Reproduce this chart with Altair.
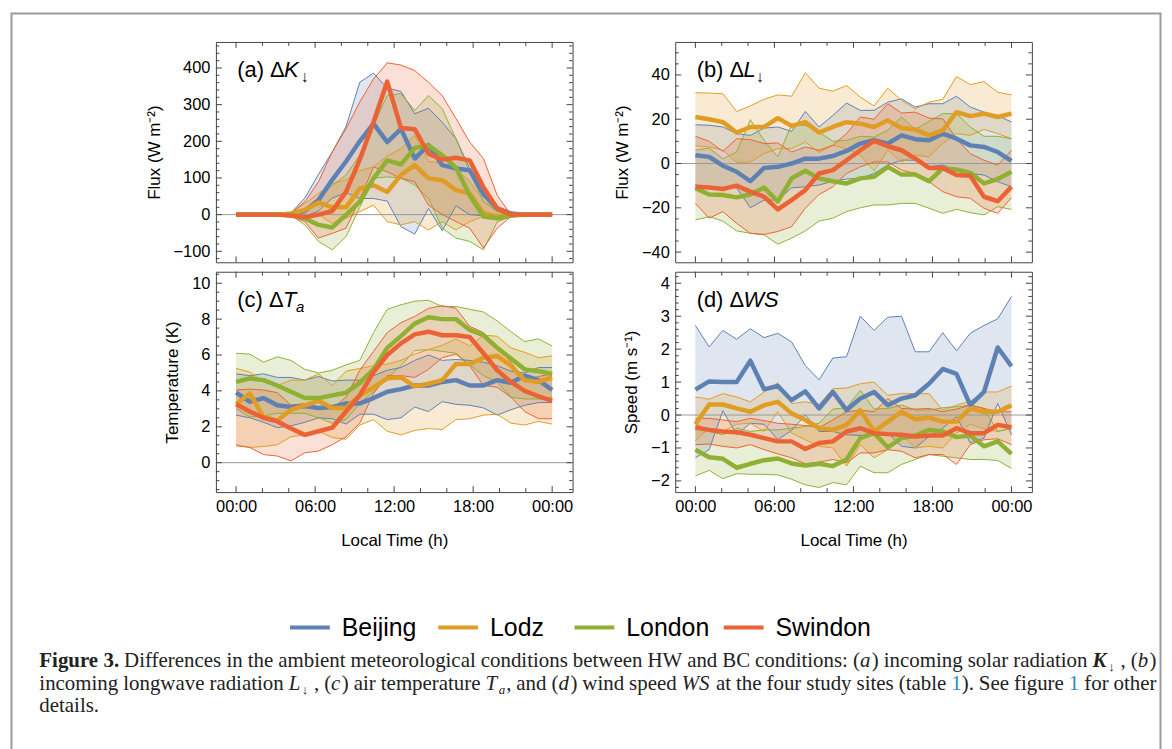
import altair as alt
import pandas as pd

SITES = ["Beijing", "Lodz", "London", "Swindon"]
COLORS = ["#5E81B5", "#E19C24", "#8FB032", "#EB6235"]
# 24 samples spread evenly over the day, 00:00 .. 24:00
HOURS = [i * 24 / 23 for i in range(24)]

# ---------------- (a) incoming solar radiation (W m-2) ----------------
K_BEI_M = [0, 0, 0, 0, 2, 10, 40, 95, 145, 200, 248, 198, 234, 153, 190, 135, 126, 121, 55, 17, 3, 0, 0, 0]
K_BEI_HI = [0, 0, 0, 0, 5, 45, 110, 171, 240, 361, 386, 345, 336, 275, 290, 252, 207, 126, 67, 17, 2, 0, 0, 0]
K_BEI_LO = [0, 0, 0, 0, 0, -5, 10, 45, 60, 44, 44, 37, -33, -53, 17, -44, 24, 0, -3, -5, 0, 0, 0, 0]
K_LOD_M = [0, 0, 0, 0, 3, 13, 33, 20, 20, 71, 80, 62, 108, 135, 99, 94, 67, 58, 4, -5, -1, 0, 0, 0]
K_LOD_HI = [0, 0, 0, 0, 5, 30, 58, 85, 95, 120, 130, 160, 180, 216, 145, 140, 126, 90, 40, 8, 0, 0, 0, 0]
K_LOD_LO = [0, 0, 0, 0, 0, -5, 0, -24, -10, 8, 26, -19, -28, -19, -42, -19, -42, -19, -5, 0, 0, 0, 0, 0]
K_LON_M = [0, 0, 0, 0, 0, -10, -28, -35, -1, 35, 99, 148, 137, 182, 189, 162, 128, 53, -5, -10, -3, 0, 0, 0]
K_LON_HI = [0, 0, 0, 0, 2, 17, 44, 80, 108, 162, 243, 325, 330, 284, 325, 289, 207, 117, 35, 8, 0, 0, 0, 0]
K_LON_LO = [0, 0, 0, 0, -2, -28, -73, -96, -60, 20, 99, 103, 100, 81, 44, -37, -64, -73, -96, -20, -5, 0, 0, 0]
K_SWI_M = [0, 0, 0, 0, -3, -7, 0, 10, 62, 150, 252, 363, 236, 233, 166, 150, 155, 148, 75, 17, 0, 0, 0, 0]
K_SWI_HI = [0, 0, 0, 0, 5, 35, 90, 171, 234, 307, 370, 414, 408, 393, 361, 325, 262, 198, 153, 53, 0, 0, 0, 0]
K_SWI_LO = [0, 0, 0, 0, -5, -19, -64, -51, -37, 40, 130, 117, 99, 90, 26, 0, -19, -37, -91, -37, -5, 0, 0, 0]

# ---------------- (b) incoming longwave radiation (W m-2) ----------------
L_BEI_M = [3.7, 3, -1, -3.7, -8, -2, -1.5, 0, 2.2, 2.2, 3.4, 5.7, 9, 10.5, 9, 12.7, 11, 10.5, 13.5, 11.2, 8.2, 7.5, 5.2, 1.2]
L_BEI_HI = [17.5, 17.3, 16.5, 13.5, 12.7, 16, 16.5, 14.5, 23.5, 16.5, 21.7, 27.3, 24, 24, 27.7, 29.2, 25.5, 27, 27, 30.4, 25.5, 23.2, 21.7, 18.7]
L_BEI_LO = [-9.7, -10.5, -11, -11, -20, -16.5, -16.5, -11, -10.5, -9.7, -8, -7, -6.7, -4.5, -0.7, 1.5, 1.5, -1.5, -0.7, -3, -4.5, -5.2, -8.2, -10.5]
L_LOD_M = [21, 20, 18.7, 14, 16.5, 16.5, 20.5, 17, 18.7, 14, 16.5, 18.7, 18, 16.5, 19.5, 16, 15.4, 12.7, 15, 23.2, 21.4, 22.5, 21, 22.5]
L_LOD_HI = [32, 31.8, 31.5, 23.5, 26, 29, 31, 30.4, 41, 34, 32.7, 35.2, 30, 26, 34, 28.5, 24.7, 27.7, 29, 39.3, 35.6, 37, 32.2, 31]
L_LOD_LO = [8, 7.5, 6, 0.5, 0.7, 4.5, 6.7, 6.7, 9.7, 5, 8.2, 6.7, 3.7, -3.3, 6, 0.7, 3.7, 3, 9, 13.5, 12.7, 15.4, 13.5, 11.2]
L_LON_M = [-11.2, -14, -14.2, -15.3, -14, -10.8, -17.2, -6.7, -3.3, -6.7, -8, -9, -6.7, -6, -1.5, -5, -5, -8, -2.2, -2.7, -4.2, -9, -7, -3.7]
L_LON_HI = [6, 7, 2.2, 5.2, 19.8, 10.5, 3, 17.5, 17.2, 14.2, 10, 10.5, 12.3, 12, 15, 21, 15.4, 19, 22.5, 22.5, 16.5, 12.3, 12.3, 11.2]
L_LON_LO = [-25.5, -24, -26, -30.4, -31.5, -32.2, -36.4, -33.7, -30.4, -26, -24.7, -21.7, -20, -18.7, -18.7, -18, -18, -20.2, -22.5, -20.7, -22.2, -23.2, -19.5, -20.7]
L_SWI_M = [-10.5, -10.8, -11.5, -10, -12.7, -15, -20.7, -16.5, -12, -4.5, -3, 1.5, 6, 10.2, 7.8, 6, 2.2, -2, -2, -5.2, -5.5, -15, -17, -10.5]
L_SWI_HI = [12.3, 10, 5.5, 11.2, 10.8, 9, 9.3, 5.2, 7.5, 6, 8.2, 13.5, 21, 20, 27, 22.8, 23.2, 20.5, 20.2, 11.2, 4.5, 1.5, -0.7, 6]
L_SWI_LO = [-18, -24.7, -21.7, -27, -31.5, -32, -30.7, -28.5, -20.2, -14, -10.5, -4.5, -1.5, 0.7, 0.7, -3, -4.5, -8.2, -12.7, -15, -15.7, -20.2, -22.5, -15.4]

# ---------------- (c) air temperature (K) ----------------
T_BEI_M = [3.9, 3.4, 3.6, 3.2, 3.1, 3.15, 3.05, 3.1, 3.3, 3.3, 3.6, 3.95, 4.1, 4.3, 4.3, 4.5, 4.6, 4.3, 4.3, 4.6, 4.45, 4.85, 4.6, 4.05]
T_BEI_HI = [4.95, 4.85, 4.95, 4.75, 4.75, 4.6, 4.8, 4.55, 4.6, 4.6, 4.85, 5.15, 5.3, 5.7, 6.0, 5.7, 5.75, 5.7, 5.6, 5.4, 5.1, 5.0, 5.3, 5.3]
T_BEI_LO = [2.65, 2.5, 2.25, 1.95, 2.05, 2.25, 2.5, 2.45, 2.15, 2.7, 2.7, 2.4, 2.5, 3.1, 2.85, 3.4, 3.25, 3.2, 3.05, 2.65, 2.95, 3.2, 3.35, 3.35]
T_LOD_M = [3.25, 3.85, 2.55, 2.35, 2.95, 3.2, 3.45, 3.05, 3.05, 3.75, 4.2, 4.7, 4.75, 4.25, 4.4, 4.6, 5.5, 5.5, 5.85, 5.95, 5.4, 4.6, 4.5, 4.75]
T_LOD_HI = [5.25, 5.05, 4.5, 4.3, 4.6, 4.6, 4.95, 4.3, 5.1, 5.25, 5.4, 5.5, 5.7, 6.05, 6.3, 6.55, 6.9, 6.5, 7.1, 7.05, 6.4, 6.15, 5.85, 5.95]
T_LOD_LO = [1.0, 0.85, 0.9, 1.0, 1.45, 1.55, 1.75, 1.4, 1.3, 2.1, 2.4, 1.75, 1.55, 1.8, 1.9, 1.85, 2.4, 2.45, 2.65, 2.7, 2.2, 2.1, 2.3, 2.15]
T_LON_M = [4.5, 4.7, 4.6, 4.3, 3.95, 3.6, 3.6, 3.75, 3.9, 4.45, 5.2, 6.4, 7.05, 7.75, 8.1, 8.0, 8.0, 7.4, 7.1, 6.4, 5.8, 5.2, 5.1, 4.95]
T_LON_HI = [6.1, 6.05, 5.6, 5.9, 5.7, 5.2, 5.0, 5.15, 5.45, 5.7, 7.25, 8.55, 8.8, 9.0, 9.05, 8.7, 8.7, 8.55, 8.4, 7.9, 7.3, 6.75, 6.9, 6.5]
T_LON_LO = [3.0, 2.55, 2.6, 2.75, 2.75, 2.75, 2.5, 2.2, 2.4, 3.3, 3.95, 4.7, 5.4, 6.25, 6.3, 6.2, 6.1, 5.45, 4.85, 4.5, 3.65, 3.55, 3.55, 3.65]
T_SWI_M = [3.25, 2.85, 2.5, 2.3, 1.9, 1.55, 1.75, 1.95, 2.85, 3.75, 5.05, 6.0, 6.65, 7.15, 7.3, 7.1, 7.1, 7.0, 6.1, 5.15, 4.5, 4.0, 3.7, 3.45]
T_SWI_HI = [4.05, 4.1, 4.05, 3.9, 3.2, 3.3, 3.1, 3.0, 3.65, 5.15, 6.2, 7.25, 7.8, 8.15, 8.6, 8.75, 8.6, 7.6, 7.25, 6.5, 5.6, 4.6, 4.8, 4.95]
T_SWI_LO = [0.95, 0.85, 0.45, 0.37, 0.1, 0.55, 0.65, 1.0, 1.45, 2.2, 3.85, 4.85, 4.85, 4.75, 5.2, 5.85, 6.05, 5.4, 4.3, 4.2, 3.65, 2.85, 2.45, 2.45]

# ---------------- (d) wind speed (m s-1) ----------------
W_BEI_M = [0.77, 1.02, 1.0, 1.0, 1.65, 0.78, 0.88, 0.45, 0.72, 0.2, 0.7, 0.15, 0.5, 0.7, 0.3, 0.5, 0.6, 0.95, 1.4, 1.25, 0.3, 0.7, 2.05, 1.48]
W_BEI_HI = [2.72, 2.07, 2.57, 2.3, 2.62, 2.35, 2.48, 2.22, 1.5, 1.07, 1.73, 1.77, 3.0, 2.57, 2.97, 3.0, 1.92, 1.92, 2.5, 1.95, 2.48, 2.72, 2.92, 3.6]
W_BEI_LO = [-1.3, -1.05, 0.13, -0.6, -0.25, -0.28, -0.75, -0.47, 0.0, -0.5, -0.5, -0.6, -0.62, -0.6, -0.55, -0.95, -1.0, -0.65, -0.4, -0.05, -0.85, -0.7, 0.35, -0.6]
W_LOD_M = [-0.28, 0.32, 0.32, 0.2, 0.1, 0.3, 0.4, 0.05, -0.15, -0.4, -0.45, -0.3, 0.15, -0.5, -0.2, 0.1, -0.13, -0.08, -0.2, -0.2, 0.2, 0.1, 0.1, 0.3]
W_LOD_HI = [0.55, 0.48, 0.65, 0.55, 0.4, 0.7, 0.98, 0.35, 0.4, 0.32, 0.8, 0.82, 0.95, 1.0, 0.6, 0.65, 0.65, 0.65, 0.15, 0.3, 0.42, 0.7, 0.7, 0.88]
W_LOD_LO = [-0.78, -0.4, -0.5, -0.28, -0.25, -0.5, 0.1, -0.55, -0.75, -0.95, -1.0, -1.55, -0.9, -1.3, -1.05, -0.6, -1.0, -0.95, -1.0, -0.55, -0.28, -0.42, -0.5, -0.4]
W_LON_M = [-1.05, -1.28, -1.33, -1.6, -1.48, -1.37, -1.32, -1.47, -1.53, -1.48, -1.55, -1.35, -0.7, -0.55, -0.98, -0.7, -0.62, -0.45, -0.5, -0.67, -0.62, -0.95, -0.8, -1.18]
W_LON_HI = [-0.25, -0.5, -0.6, -0.4, -0.5, -0.45, -0.45, -0.4, -0.35, -0.25, 0.18, 0.22, 0.75, 0.18, 0.2, 0.3, 0.15, 0.15, 0.22, 0.25, 0.3, 0.2, -0.5, -0.4]
W_LON_LO = [-1.85, -1.68, -1.93, -1.78, -1.8, -1.8, -1.82, -1.95, -2.12, -2.2, -2.05, -2.12, -1.55, -1.75, -1.75, -1.5, -1.35, -1.2, -1.25, -1.3, -1.35, -1.35, -1.38, -1.62]
W_SWI_M = [-0.38, -0.45, -0.5, -0.52, -0.6, -0.7, -0.8, -0.8, -1.03, -0.85, -0.8, -0.5, -0.4, -0.55, -0.58, -0.6, -0.65, -0.62, -0.62, -0.4, -0.55, -0.55, -0.3, -0.37]
W_SWI_HI = [-0.1, -0.1, -0.15, -0.2, -0.1, -0.17, -0.25, -0.28, -0.32, -0.38, -0.15, 0.1, 0.15, 0.1, 0.5, 0.2, 0.18, 0.2, 0.1, 0.18, 0.3, 0.2, 0.1, 0.1]
W_SWI_LO = [-0.9, -0.88, -0.95, -1.0, -0.9, -1.05, -1.18, -1.3, -1.48, -1.43, -1.35, -1.45, -1.15, -1.15, -1.05, -1.1, -1.3, -1.2, -1.2, -1.5, -0.9, -0.75, -0.72, -0.9]

# axis ticks
X_LABELS = [0, 6, 12, 18, 24]
X_MINOR = [2, 4, 8, 10, 14, 16, 20, 22]
Y_TICKS_A = [-100, 0, 100, 200, 300, 400]
Y_TICKS_B = [-40, -20, 0, 20, 40]
Y_TICKS_C = [0, 2, 4, 6, 8, 10]
Y_TICKS_D = [-2, -1, 0, 1, 2, 3, 4]

# caption: lines -> words -> (text, style) runs
CAPTION = [
    [[("Figure", "b")], [("3.", "b")], [("Differences", "r")], [("in", "r")], [("the", "r")],
     [("ambient", "r")], [("meteorological", "r")], [("conditions", "r")], [("between", "r")],
     [("HW", "r")], [("and", "r")], [("BC", "r")], [("conditions:", "r")],
     [("(", "r"), ("a", "i"), (")", "r")], [("incoming", "r")], [("solar", "r")], [("radiation", "r")],
     [("K", "bi"), ("↓", "sub"), (",", "r")], [("(", "r"), ("b", "i"), (")", "r")]],
    [[("incoming", "r")], [("longwave", "r")], [("radiation", "r")], [("L", "i"), ("↓", "sub"), (",", "r")],
     [("(", "r"), ("c", "i"), (")", "r")], [("air", "r")], [("temperature", "r")],
     [("T", "i"), ("a", "isub"), (",", "r")], [("and", "r")], [("(", "r"), ("d", "i"), (")", "r")],
     [("wind", "r")], [("speed", "r")], [("WS", "i")], [("at", "r")], [("the", "r")], [("four", "r")],
     [("study", "r")], [("sites", "r")], [("(table", "r")], [("1", "link"), (").", "r")], [("See", "r")],
     [("figure", "r")], [("1", "link")], [("for", "r")], [("other", "r")]],
    [[("details.", "r")]],
]

W, H = 358.5, 221.5
FRAME = "#444444"
FONT = "Liberation Sans"
SERIF = "Liberation Serif"
X_DOMAIN = [-1.53, 25.55]

# legend layout (pixels, relative to panel (a) plot origin)
LEG_X = [74.5, 223.5, 360.5, 510.5]
LEG_Y = 588.5
LEG_SYMBOL = 40
LEG_GAP = 12

COLOR = alt.Color("site:N", scale=alt.Scale(domain=SITES, range=COLORS), legend=None)

# Times (Liberation Serif) advance widths, 1/1000 em
_TR = {" ": 250, "(": 333, ")": 333, ",": 250, ".": 250, ":": 278, "1": 500, "3": 500, "↓": 860,
       "B": 667, "C": 667, "D": 722, "F": 556, "H": 722, "K": 722, "L": 611, "S": 556, "T": 611, "W": 944,
       "a": 444, "b": 500, "c": 444, "d": 500, "e": 444, "f": 333, "g": 500, "h": 500, "i": 278,
       "j": 278, "k": 500, "l": 278, "m": 778, "n": 500, "o": 500, "p": 500, "q": 500, "r": 333,
       "s": 389, "t": 278, "u": 500, "v": 500, "w": 722, "x": 500, "y": 500, "z": 444}
_TB = dict(_TR, **{"F": 611, "u": 556, "r": 444, "K": 778})
_TI = dict(_TR, **{"a": 500, "K": 667, "L": 556, "T": 556, "W": 833, "S": 500})
STYLES = {
    "r": dict(tab=_TR, scale=1.0, dy=0, style="normal", weight="normal", color="#222222", pad=0),
    "b": dict(tab=_TB, scale=1.0, dy=0, style="normal", weight="bold", color="#222222", pad=0),
    "i": dict(tab=_TI, scale=1.0, dy=0, style="italic", weight="normal", color="#222222", pad=1.5),
    "bi": dict(tab=_TI, scale=1.0, dy=0, style="italic", weight="bold", color="#222222", pad=2),
    "sub": dict(tab=_TR, scale=0.62, dy=4, style="normal", weight="normal", color="#222222", pad=1),
    "isub": dict(tab=_TI, scale=0.62, dy=4, style="italic", weight="normal", color="#222222", pad=1),
    "link": dict(tab=_TR, scale=1.0, dy=0, style="normal", weight="normal", color="#2a8cc0", pad=0),
}


def run_width(txt, st, size):
    s = STYLES[st]
    return sum(s["tab"].get(ch, 560) for ch in txt) / 1000.0 * size * s["scale"] + s["pad"]


def frame_df(means, los, his):
    rows = []
    for s, m, lo, hi in zip(SITES, means, los, his):
        for h, a, b, c in zip(HOURS, m, lo, hi):
            rows.append({"site": s, "hour": h, "mean": a, "lo": b, "hi": c})
    return pd.DataFrame(rows)


ONE = pd.DataFrame({"k": [0]})


def text_layer(txt, x, y, size=22, style="normal", weight="normal", font=FONT, color="black"):
    return alt.Chart(ONE).mark_text(
        text=txt, align="left", baseline="alphabetic", fontSize=size,
        fontStyle=style, fontWeight=weight, font=font, color=color
    ).encode(x=alt.value(x), y=alt.value(y))


def caption_layers(x0, y0, width, size, lead):
    out = []
    for li, line in enumerate(CAPTION):
        widths = [sum(run_width(t, st, size) for t, st in word) for word in line]
        space = 0.25 * size
        if li < len(CAPTION) - 1 and len(line) > 1:
            space = (width - sum(widths)) / (len(line) - 1)
        x = x0
        y = y0 + li * lead
        for word, wd in zip(line, widths):
            xx = x
            for t, st in word:
                s = STYLES[st]
                out.append(text_layer(t, xx, y + s["dy"], size=size * s["scale"], style=s["style"],
                                      weight=s["weight"], font=SERIF, color=s["color"]))
                xx += run_width(t, st, size)
            x += wd + space
    return out


def legend_layers():
    out = []
    for site, col, x0 in zip(SITES, COLORS, LEG_X):
        out.append(alt.Chart(ONE).mark_rule(color=col, strokeWidth=4).encode(
            x=alt.value(x0), x2=alt.value(x0 + LEG_SYMBOL), y=alt.value(LEG_Y)))
        out.append(text_layer(site, x0 + LEG_SYMBOL + LEG_GAP, LEG_Y + 9, size=25))
    return out


def panel(df, ydom, yticks, ystep, ytitle, show_x, label_layers, extra=()):
    xs = alt.Scale(domain=X_DOMAIN, nice=False, zero=False)
    ys = alt.Scale(domain=ydom, nice=False, zero=False)
    if show_x:
        xaxis = alt.Axis(values=X_LABELS, title="Local Time (h)", ticks=False, tickSize=0,
                         domain=False, grid=False, labelPadding=7, titlePadding=17,
                         labelExpr="(datum.value % 24 < 10 ? '0' : '') + (datum.value % 24) + ':00'")
    else:
        xaxis = None
    yaxis = alt.Axis(values=yticks, title=ytitle, ticks=False, tickSize=0, domain=False,
                     grid=False, labelPadding=6, titlePadding=10)
    X = alt.X("hour:Q", scale=xs, axis=xaxis)
    base = alt.Chart(df)
    band = base.mark_area(fillOpacity=0.2).encode(
        x=X, y=alt.Y("lo:Q", scale=ys, axis=yaxis), y2="hi:Q", color=COLOR)
    lo_line = base.mark_line(strokeWidth=1).encode(
        x=X, y=alt.Y("lo:Q", scale=ys, axis=yaxis), color=COLOR)
    hi_line = base.mark_line(strokeWidth=1).encode(
        x=X, y=alt.Y("hi:Q", scale=ys, axis=yaxis), color=COLOR)
    zero = alt.Chart(pd.DataFrame({"v": [0]})).mark_rule(color="#9a9a9a", strokeWidth=1).encode(
        y=alt.Y("v:Q", scale=ys, axis=yaxis))
    mean = base.mark_line(strokeWidth=4.5, strokeJoin="round").encode(
        x=X, y=alt.Y("mean:Q", scale=ys, axis=yaxis), color=COLOR,
        order=alt.Order("hour:Q"))

    # inward frame ticks
    lo_v, hi_v = ydom
    n0 = int(lo_v // ystep) - 1
    n1 = int(hi_v // ystep) + 1
    minor_y = [round(i * ystep, 6) for i in range(n0, n1 + 1)
               if lo_v <= i * ystep <= hi_v and round(i * ystep, 6) not in yticks]
    ymaj = pd.DataFrame({"v": yticks})
    ymin = pd.DataFrame({"v": minor_y})
    xmaj = pd.DataFrame({"v": X_LABELS})
    xmin = pd.DataFrame({"v": X_MINOR})
    tick_layers = []
    for d, ln in ((ymaj, 6), (ymin, 3.5)):
        Y = alt.Y("v:Q", scale=ys, axis=yaxis)
        tick_layers.append(alt.Chart(d).mark_rule(color=FRAME, strokeWidth=1).encode(
            y=Y, x=alt.value(0), x2=alt.value(ln)))
        tick_layers.append(alt.Chart(d).mark_rule(color=FRAME, strokeWidth=1).encode(
            y=Y, x=alt.value(W - ln), x2=alt.value(W)))
    for d, ln in ((xmaj, 6), (xmin, 4)):
        XX = alt.X("v:Q", scale=xs, axis=xaxis)
        tick_layers.append(alt.Chart(d).mark_rule(color=FRAME, strokeWidth=1).encode(
            x=XX, y=alt.value(H - ln), y2=alt.value(H)))
        tick_layers.append(alt.Chart(d).mark_rule(color=FRAME, strokeWidth=1).encode(
            x=XX, y=alt.value(0), y2=alt.value(ln)))

    layers = [band, zero, lo_line, hi_line, mean] + tick_layers + list(label_layers) + list(extra)
    return alt.layer(*layers).properties(width=W, height=H)


df_a = frame_df([K_BEI_M, K_LOD_M, K_LON_M, K_SWI_M], [K_BEI_LO, K_LOD_LO, K_LON_LO, K_SWI_LO],
                [K_BEI_HI, K_LOD_HI, K_LON_HI, K_SWI_HI])
df_b = frame_df([L_BEI_M, L_LOD_M, L_LON_M, L_SWI_M], [L_BEI_LO, L_LOD_LO, L_LON_LO, L_SWI_LO],
                [L_BEI_HI, L_LOD_HI, L_LON_HI, L_SWI_HI])
df_c = frame_df([T_BEI_M, T_LOD_M, T_LON_M, T_SWI_M], [T_BEI_LO, T_LOD_LO, T_LON_LO, T_SWI_LO],
                [T_BEI_HI, T_LOD_HI, T_LON_HI, T_SWI_HI])
df_d = frame_df([W_BEI_M, W_LOD_M, W_LON_M, W_SWI_M], [W_BEI_LO, W_LOD_LO, W_LON_LO, W_SWI_LO],
                [W_BEI_HI, W_LOD_HI, W_LON_HI, W_SWI_HI])

LX, LY = 21.5, 35
lab_a = [text_layer("(a) Δ", LX, LY), text_layer("K", LX + 47, LY, style="italic"),
         text_layer("↓", LX + 64, LY + 5, size=16)]
lab_b = [text_layer("(b) Δ", LX, LY), text_layer("L", LX + 47, LY, style="italic"),
         text_layer("↓", LX + 60, LY + 5, size=16)]
lab_c = [text_layer("(c) Δ", LX, LY), text_layer("T", LX + 46, LY, style="italic"),
         text_layer("a", LX + 59, LY + 5, size=15, style="italic")]
lab_d = [text_layer("(d) Δ", LX, LY), text_layer("WS", LX + 47, LY, style="italic")]

# outer figure border (relative to panel (a) plot origin)
border = alt.Chart(ONE).mark_rect(fillOpacity=0, stroke="#9a9a9a", strokeWidth=2).encode(
    x=alt.value(-205.5), x2=alt.value(949.5), y=alt.value(-28.5), y2=alt.value(780))

# caption (relative to panel (c) plot origin)
caption = caption_layers(-177.5, 397, 1123, 21, 23)

pa = panel(df_a, [-130, 471], Y_TICKS_A, 20, "Flux (W m⁻²)", False, lab_a,
           extra=[border] + legend_layers())
pb = panel(df_b, [-44.6, 54.9], Y_TICKS_B, 5, "Flux (W m⁻²)", False, lab_b)
pc = panel(df_c, [-1.64, 10.64], Y_TICKS_C, 0.5, "Temperature (K)", True, lab_c, extra=caption)
pd_ = panel(df_d, [-2.34, 4.35], Y_TICKS_D, 0.2, "Speed (m s⁻¹)", True, lab_d)

chart = alt.concat(pa, pb, pc, pd_, columns=2, spacing={"row": 9, "column": 102.7}, bounds="flush").properties(
    padding={"left": 2, "top": 2, "right": 2, "bottom": 2}, background="white"
).configure_view(stroke=FRAME, strokeWidth=1).configure_axis(
    labelFont=FONT, labelFontSize=16.5, labelColor="black", titleFont=FONT, titleFontSize=17,
    titleFontWeight="normal", titleColor="black"
)

chart.save("out.html", embed_options={"renderer": "svg", "actions": False})
